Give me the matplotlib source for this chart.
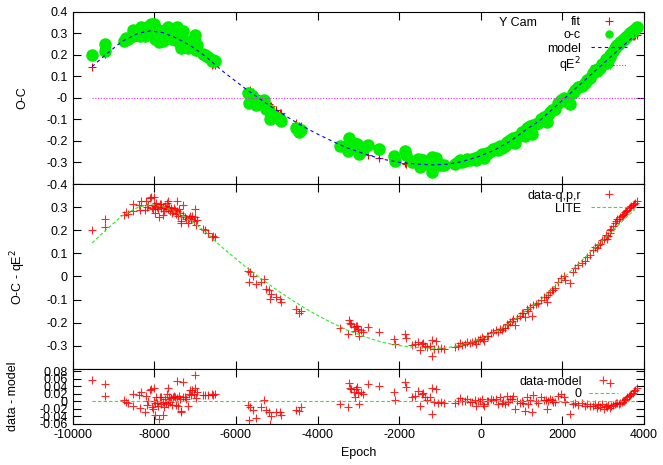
import matplotlib
matplotlib.use("Agg")
import matplotlib.pyplot as plt
import numpy as np
from matplotlib.ticker import FuncFormatter

plt.rcParams['font.family'] = ['Liberation Sans', 'DejaVu Sans']
plt.rcParams['axes.unicode_minus'] = False

epoch = [
    # early cluster
    -9526, -9210, -9220, -8760, -8690, -8640, -8530, -8520, -8380, -8360,
    -8320, -8240, -8215, -8180, -8160, -8110, -8080, -8060, -8040, -8020,
    -8000, -7990, -7980, -7960, -7940, -7920, -7890, -7870, -7850, -7830,
    -7800, -7790, -7770, -7750, -7730, -7700, -7680, -7670, -7650, -7620,
    -7600, -7580, -7550, -7530, -7500, -7480, -7460, -7440, -7420, -7400,
    -7380, -7360, -7340, -7310, -7290, -7250, -7220, -7180, -7150, -7130,
    -7100, -7070, -7040, -7015, -7010, -6975, -6950, -6800, -6770, -6680,
    -6600, -6565, -6525,
    # -5700 .. -4400
    -5700, -5650, -5690, -5585, -5520, -5320, -5380, -5255, -5190, -5135,
    -5160, -5030, -4930, -4905, -4520, -4400, -4450,
    # -3450 .. -2100
    -3442, -3229, -3213, -3254, -3180, -3115, -3090, -3060, -3033, -3008,
    -2984, -2926, -2880, -2763, -2501, -2125, -2109,
    # minimum
    -1855, -1830, -1691, -1609, -1528, -1487, -1440, -1405, -1360, -1323,
    -1250, -1200, -1184, -1135, -1102, -1037, -980, -890, -628, -560,
    -505, -450, -383, -330, -260, -200, -137, -100, -60, -15,
    26, 60, 92, 150, 190, 250, 312, 380, 435, 480,
    517, 560, 599, 640, 681, 720, 762, 800, 844, 900,
    967, 1010, 1049, 1089, 1130, 1171, 1212, 1253, 1294, 1350,
    1416, 1480, 1560, 1604, 1621, 1662, 1702, 1744, 1784, 1825,
    1907, 1964, 2046, 2070, 2190,
    # rising branch
    2258, 2316, 2397, 2479, 2561, 2620, 2684, 2765, 2806, 2850,
    2888, 2930, 2970, 3030, 3076, 3093, 3130, 3174, 3174, 3210,
    3256, 3297, 3330, 3354, 3390, 3420, 3460, 3485, 3520, 3542,
    3570, 3600, 3640, 3665, 3700, 3731, 3760, 3788, 3829,
]
oc = [
    0.200, 0.250, 0.216, 0.266, 0.278, 0.272, 0.313, 0.285, 0.310, 0.287,
    0.327, 0.287, 0.325, 0.300, 0.309, 0.338, 0.342, 0.295, 0.290, 0.310,
    0.342, 0.275, 0.305, 0.318, 0.300, 0.290, 0.258, 0.312, 0.295, 0.312,
    0.300, 0.266, 0.285, 0.305, 0.295, 0.318, 0.290, 0.327, 0.300, 0.285,
    0.295, 0.275, 0.282, 0.298, 0.288, 0.270, 0.327, 0.285, 0.262, 0.292,
    0.275, 0.240, 0.232, 0.309, 0.265, 0.258, 0.250, 0.230, 0.255, 0.262,
    0.250, 0.260, 0.240, 0.294, 0.258, 0.222, 0.245, 0.205, 0.200, 0.189,
    0.172, 0.175, 0.172,
    0.022, 0.020, -0.022, 0.003, -0.033, -0.011, -0.022, -0.052, -0.057, -0.076,
    -0.098, -0.088, -0.098, -0.109, -0.141, -0.148, -0.158,
    -0.224, -0.187, -0.201, -0.249, -0.205, -0.220, -0.234, -0.215, -0.213, -0.227,
    -0.259, -0.230, -0.240, -0.220, -0.239, -0.270, -0.292,
    -0.249, -0.267, -0.296, -0.292, -0.282, -0.320, -0.290, -0.288, -0.300, -0.306,
    -0.300, -0.273, -0.342, -0.313, -0.277, -0.313, -0.310, -0.313, -0.306, -0.300,
    -0.288, -0.296, -0.292, -0.285, -0.288, -0.285, -0.277, -0.290, -0.275, -0.270,
    -0.263, -0.272, -0.277, -0.258, -0.256, -0.245, -0.239, -0.232, -0.242, -0.225,
    -0.231, -0.222, -0.224, -0.205, -0.210, -0.195, -0.191, -0.186, -0.210, -0.180,
    -0.173, -0.160, -0.158, -0.177, -0.140, -0.148, -0.131, -0.170, -0.124, -0.120,
    -0.115, -0.100, -0.090, -0.087, -0.112, -0.081, -0.065, -0.058, -0.058, -0.050,
    -0.022, -0.008, 0.000, -0.015, -0.029,
    0.021, 0.036, 0.050, 0.057, 0.069, 0.085, 0.093, 0.115, 0.129, 0.125,
    0.136, 0.140, 0.158, 0.160, 0.179, 0.161, 0.175, 0.201, 0.190, 0.205,
    0.218, 0.232, 0.240, 0.247, 0.250, 0.258, 0.262, 0.268, 0.272, 0.280,
    0.282, 0.287, 0.295, 0.299, 0.305, 0.309, 0.315, 0.319, 0.327,
]
resid = [
    0.056, 0.045, 0.013, 0.004, -0.002, -0.006, 0.018, -0.012, 0.017, -0.018,
    0.025, -0.028, 0.015, -0.010, 0.000, 0.030, 0.032, -0.015, -0.022, 0.000,
    0.035, -0.036, -0.004, 0.010, -0.006, -0.014, -0.047, 0.010, -0.008, 0.011,
    -0.002, -0.036, -0.016, 0.005, -0.004, 0.020, -0.008, 0.036, 0.012, -0.003,
    0.008, -0.010, 0.012, 0.015, 0.010, -0.010, 0.055, 0.008, -0.012, 0.014,
    0.005, -0.030, -0.026, 0.050, 0.012, 0.010, 0.006, -0.012, 0.020, 0.029,
    0.016, 0.030, 0.018, 0.070, 0.036, 0.008, 0.025, 0.017, 0.017, 0.016,
    0.018, 0.016, 0.018,
    -0.010, -0.017, -0.050, -0.025, -0.045, 0.004, -0.017, -0.025, -0.030, -0.039,
    -0.061, -0.030, -0.030, -0.038, -0.025, -0.017, -0.027,
    -0.007, 0.048, 0.034, -0.016, 0.032, 0.025, 0.011, 0.032, 0.037, 0.023,
    -0.009, 0.024, 0.018, 0.045, 0.041, 0.025, 0.003,
    0.052, 0.038, 0.011, 0.015, 0.026, -0.012, 0.018, 0.021, 0.010, 0.004,
    0.010, 0.036, -0.034, -0.002, 0.032, -0.004, -0.002, -0.005, -0.006, 0.000,
    0.008, 0.001, -0.001, 0.005, -0.002, -0.002, 0.003, -0.012, 0.000, 0.001,
    0.006, -0.007, -0.014, 0.000, 0.000, 0.005, 0.003, 0.006, -0.008, 0.012,
    -0.006, 0.000, -0.008, 0.015, -0.002, 0.006, 0.005, 0.014, -0.020, 0.000,
    -0.004, 0.000, -0.006, -0.027, 0.012, -0.008, 0.004, -0.030, 0.016, 0.000,
    -0.005, 0.010, 0.002, 0.003, -0.022, -0.001, 0.005, 0.004, -0.002, -0.002,
    0.014, 0.020, 0.012, -0.003, -0.034,
    -0.009, -0.004, -0.010, -0.006, -0.013, -0.007, -0.012, -0.012, -0.008, -0.018,
    -0.010, -0.015, -0.008, -0.020, -0.012, -0.015, -0.010, 0.049, -0.018, -0.012,
    -0.010, -0.008, -0.006, -0.006, -0.008, -0.004, -0.003, 0.000, 0.001, 0.002,
    0.006, 0.010, 0.013, 0.016, 0.019, 0.022, 0.026, 0.029, 0.034,
]

# LITE / model curve
model_epoch = [-9530, -9200, -8800, -8400, -8100, -7800, -7550, -7300, -7100, -6900,
               -6700, -6500, -6300, -6075, -5800, -5450, -5200, -4900, -4600, -4300,
               -4000, -3650, -3300, -2800, -2400, -2000, -1600, -1200, -850, -450,
               -50, 350, 750, 1150, 1450, 1900, 2300, 2700, 3100, 3500, 3790]
model_oc = [0.145, 0.200, 0.262, 0.300, 0.311, 0.303, 0.285, 0.262, 0.240, 0.214,
            0.185, 0.152, 0.120, 0.087, 0.047, 0.000, -0.033, -0.070, -0.105, -0.138,
            -0.168, -0.200, -0.230, -0.263, -0.285, -0.299, -0.307, -0.311, -0.309, -0.296,
            -0.273, -0.242, -0.199, -0.143, -0.106, -0.030, 0.038, 0.106, 0.174, 0.242, 0.290]

# quadratic term (flat, q ~ 0) and zero line of residuals
qe2_epoch = [-9530, 4000]
qe2 = [0.0, 0.0]
zero_epoch = [-9530, 3830]
zero = [0.0, 0.0]

epoch = np.array(epoch)
oc = np.array(oc)
resid = np.array(resid)
fit = oc - resid

red = '#ff0000'
green_dot = '#00ee00'
green_line = '#22ee22'

fig = plt.figure(figsize=(6.63, 4.65), dpi=100)
left, width = 0.1101, 0.8605
ax1 = fig.add_axes([left, 0.6043, width, 0.3705])
ax2 = fig.add_axes([left, 0.2065, width, 0.3978])
ax3 = fig.add_axes([left, 0.0892, width, 0.1172])

fmt = FuncFormatter(lambda v, p: '%g' % round(v, 6))

# top: O-C
ax1.plot(epoch, fit, '+', color=red, ms=6, mew=0.8, label='fit')
ax1.plot(epoch, oc, 'o', color=green_dot, mec=green_dot, ms=8, label='o-c')
ax1.plot(model_epoch, model_oc, color='blue', lw=0.8, ls=(0, (3, 3)), label='model')
ax1.plot(qe2_epoch, qe2, color='#ee22ee', lw=0.8, ls=(0, (1, 1.5)), label='qE$^2$')
ax1.set_ylim(-0.4, 0.4)
ax1.set_yticks(np.arange(-0.4, 0.41, 0.1))
ax1.set_ylabel('O-C', fontsize=9)
ax1.yaxis.set_label_coords(-0.079, 0.5)
ax1.text(0.78, 0.935, 'Y Cam', transform=ax1.transAxes, ha='center', va='center', fontsize=9)
leg1 = ax1.legend(loc='upper right', bbox_to_anchor=(0.971, 0.975), frameon=False,
                  markerfirst=False, fontsize=9, handlelength=2.9, handletextpad=0.8,
                  labelspacing=0.1, borderpad=0, borderaxespad=0)
leg1.legend_handles[1].set_markersize(5)

# middle: O-C - qE^2
ax2.plot(epoch, oc, '+', color=red, ms=6, mew=0.8, alpha=0.85, label='data-q,p,r')
ax2.plot(model_epoch, model_oc, color=green_line, lw=0.8, ls=(0, (3, 2)), label='LITE')
ax2.set_ylim(-0.4, 0.4)
ax2.set_yticks(np.arange(-0.3, 0.31, 0.1))
ax2.set_ylabel('O-C - qE$^2$', fontsize=9)
ax2.yaxis.set_label_coords(-0.079, 0.5)
ax2.legend(loc='upper right', bbox_to_anchor=(0.971, 0.97), frameon=False,
           markerfirst=False, fontsize=9, handlelength=2.9, handletextpad=0.8,
           labelspacing=0.1, borderpad=0, borderaxespad=0)

# bottom: residuals
ax3.plot(epoch, resid, '+', color=red, ms=6, mew=0.8, alpha=0.85, label='data-model')
ax3.plot(zero_epoch, zero, color=green_line, lw=0.8, ls=(0, (3, 2)), label='0')
ax3.set_ylim(-0.06, 0.086)
ax3.set_yticks(np.arange(-0.06, 0.081, 0.02))
ax3.set_ylabel('data - model', fontsize=9)
ax3.yaxis.set_label_coords(-0.095, 0.5)
ax3.set_xlabel('Epoch', fontsize=9, labelpad=4)
ax3.legend(loc='upper right', bbox_to_anchor=(0.955, 0.88), frameon=False,
           markerfirst=False, fontsize=9, handlelength=2.3, handletextpad=0.6,
           labelspacing=0.05, borderpad=0, borderaxespad=0)

for ax in (ax1, ax2, ax3):
    ax.set_xlim(-10000, 4000)
    ax.set_xticks(np.arange(-10000, 4001, 2000))
    ax.yaxis.set_major_formatter(fmt)
    ax.xaxis.set_major_formatter(fmt)
    ax.tick_params(direction='in', top=True, right=True, length=6, width=0.8,
                   labelsize=9, pad=4)
    for s in ax.spines.values():
        s.set_linewidth(0.8)
ax1.tick_params(labelbottom=False)
ax2.tick_params(labelbottom=False)

fig.savefig('out.png', dpi=100)
